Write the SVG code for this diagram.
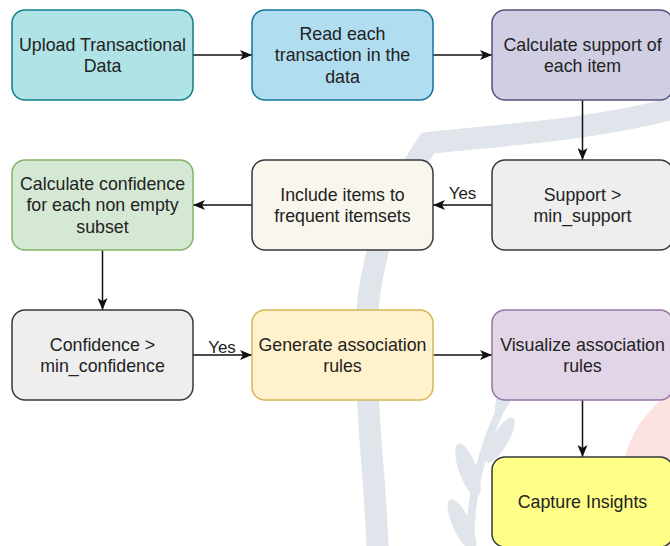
<svg xmlns="http://www.w3.org/2000/svg" width="670" height="546" viewBox="0 0 670 546">
<style>
.n{stroke-width:1.5}
.t{font-family:"Liberation Sans",Arial,sans-serif;font-size:17.8px;fill:#222;text-anchor:middle}
.l{font-family:"Liberation Sans",Arial,sans-serif;font-size:17px;fill:#222;text-anchor:middle}
.c{fill:none;stroke:#111;stroke-width:1.5}
</style>
<defs>
<marker id="ah" markerUnits="userSpaceOnUse" markerWidth="12" markerHeight="10" refX="12" refY="5" orient="auto">
<path d="M0,0 L12,5 L0,10 L3,5 Z" fill="#111"/>
</marker>
</defs>
<rect width="670" height="546" fill="#fff"/>
<g id="watermark">
<circle cx="740" cy="490" r="120" fill="#fde2e2"/>
<path d="M690,104 C600,130 500,135 428,143 C395,190 366,260 366,340 C366,420 376,480 378,560" fill="none" stroke="#dfe5ea" stroke-width="22"/>
<path d="M470,546 C470,500 480,450 505,400" fill="none" stroke="#dfe5ea" stroke-width="8"/>
<ellipse cx="468" cy="470" rx="9" ry="28" transform="rotate(-20 468 470)" fill="#dfe5ea"/>
<ellipse cx="500" cy="440" rx="8" ry="26" transform="rotate(30 500 440)" fill="#dfe5ea"/>
<ellipse cx="462" cy="525" rx="9" ry="28" transform="rotate(-25 462 525)" fill="#dfe5ea"/>
<ellipse cx="505" cy="395" rx="7" ry="22" transform="rotate(20 505 395)" fill="#dfe5ea"/>
</g>
<g id="connectors">
<path class="c" d="M193,55 H252" marker-end="url(#ah)"/>
<path class="c" d="M433,55 H492" marker-end="url(#ah)"/>
<path class="c" d="M582.5,100 V160" marker-end="url(#ah)"/>
<path class="c" d="M492,205 H433" marker-end="url(#ah)"/>
<text class="l" x="462.5" y="199">Yes</text>
<path class="c" d="M252,205 H193" marker-end="url(#ah)"/>
<path class="c" d="M102.5,250 V310" marker-end="url(#ah)"/>
<path class="c" d="M193,355 H252" marker-end="url(#ah)"/>
<text class="l" x="222" y="352.5">Yes</text>
<path class="c" d="M433,355 H492" marker-end="url(#ah)"/>
<path class="c" d="M582.5,400 V457" marker-end="url(#ah)"/>
</g>
<g id="n1"><rect class="n" x="12" y="10" width="181" height="90" rx="13" fill="#b0e3e6" stroke="#0e8088"/>
<text class="t" x="102.5" y="50.6">Upload Transactional</text><text class="t" x="102.5" y="72.2">Data</text></g>
<g id="n2"><rect class="n" x="252" y="10" width="181" height="90" rx="13" fill="#b1ddf0" stroke="#10739e"/>
<text class="t" x="342.5" y="39.8">Read each</text><text class="t" x="342.5" y="61.4">transaction in the</text><text class="t" x="342.5" y="83">data</text></g>
<g id="n3"><rect class="n" x="492" y="10" width="181" height="90" rx="13" fill="#d0cee2" stroke="#56517e"/>
<text class="t" x="582.5" y="50.6">Calculate support of</text><text class="t" x="582.5" y="72.2">each item</text></g>
<g id="n4"><rect class="n" x="492" y="160" width="181" height="90" rx="13" fill="#eeeeee" stroke="#36393d"/>
<text class="t" x="582.5" y="200.6">Support &gt;</text><text class="t" x="582.5" y="222.2">min_support</text></g>
<g id="n5"><rect class="n" x="252" y="160" width="181" height="90" rx="13" fill="#f9f7ed" stroke="#36393d"/>
<text class="t" x="342.5" y="200.6">Include items to</text><text class="t" x="342.5" y="222.2">frequent itemsets</text></g>
<g id="n6"><rect class="n" x="12" y="160" width="181" height="90" rx="13" fill="#d5e8d4" stroke="#82b366"/>
<text class="t" x="102.5" y="189.8">Calculate confidence</text><text class="t" x="102.5" y="211.4">for each non empty</text><text class="t" x="102.5" y="233">subset</text></g>
<g id="n7"><rect class="n" x="12" y="310" width="181" height="90" rx="13" fill="#eeeeee" stroke="#36393d"/>
<text class="t" x="102.5" y="350.6">Confidence &gt;</text><text class="t" x="102.5" y="372.2">min_confidence</text></g>
<g id="n8"><rect class="n" x="252" y="310" width="181" height="90" rx="13" fill="#fff2cc" stroke="#d6b656"/>
<text class="t" x="342.5" y="350.6">Generate association</text><text class="t" x="342.5" y="372.2">rules</text></g>
<g id="n9"><rect class="n" x="492" y="310" width="181" height="90" rx="13" fill="#e1d5e7" stroke="#9673a6"/>
<text class="t" x="582.5" y="350.6">Visualize association</text><text class="t" x="582.5" y="372.2">rules</text></g>
<g id="n10"><rect class="n" x="492" y="457" width="181" height="90" rx="13" fill="#ffff88" stroke="#36393d"/>
<text class="t" x="582.5" y="508.4">Capture Insights</text></g>
</svg>
